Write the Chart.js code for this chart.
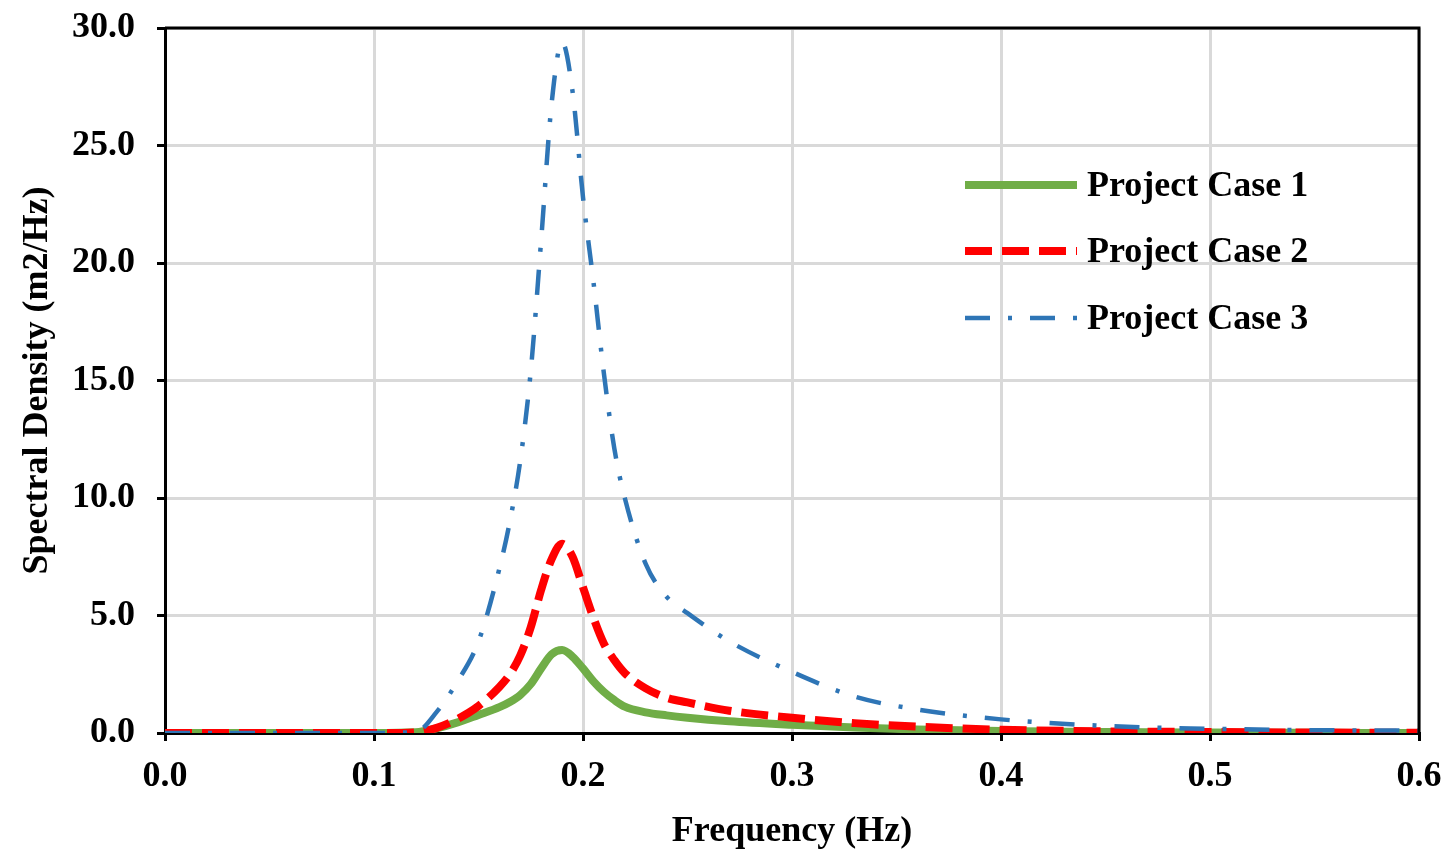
<!DOCTYPE html>
<html>
<head>
<meta charset="utf-8">
<title>Spectral Density</title>
<script src="https://cdn.jsdelivr.net/npm/chart.js@4.4.0/dist/chart.umd.min.js"></script>
<style>
    html, body { margin: 0; padding: 0; background: #fff; }
    #wrap { width: 1449px; height: 853px; position: relative; }
</style>
</head>
<body>
<div id="wrap"><canvas id="spectrumChart"></canvas></div>
<script>
// frequency points (Hz)
const freq = [0, 0.05, 0.10, 0.12, 0.13, 0.14, 0.15, 0.16, 0.165, 0.17, 0.175, 0.18, 0.185, 0.19, 0.195, 0.2, 0.205, 0.21, 0.215, 0.22, 0.23, 0.24, 0.25, 0.27, 0.3, 0.33, 0.36, 0.4, 0.45, 0.5, 0.55, 0.6];

// spectral density (m2/Hz) per case
const case1 = [0, 0, 0, 0.03, 0.2, 0.45, 0.77, 1.1, 1.32, 1.62, 2.08, 2.75, 3.35, 3.53, 3.25, 2.75, 2.2, 1.75, 1.4, 1.12, 0.88, 0.75, 0.65, 0.5, 0.35, 0.23, 0.15, 0.08, 0.04, 0.02, 0.01, 0];
const case2 = [0, 0, 0, 0.03, 0.22, 0.6, 1.15, 1.96, 2.5, 3.3, 4.5, 6.1, 7.4, 8.05, 7.5, 6.2, 4.9, 3.8, 3.1, 2.55, 1.9, 1.5, 1.3, 0.95, 0.65, 0.42, 0.27, 0.14, 0.07, 0.04, 0.02, 0.01];
const case3 = [0, 0, 0, 0.05, 0.9, 2.2, 3.9, 7.0, 9.0, 11.6, 15.4, 21.0, 26.8, 29.4, 27.3, 22.8, 19.2, 15.3, 12.1, 10.0, 7.2, 5.8, 5.1, 3.9, 2.6, 1.55, 1.0, 0.58, 0.3, 0.18, 0.12, 0.1];

const seriesNames = ['Project Case 1', 'Project Case 2', 'Project Case 3'];
const xTicks = [0, 0.1, 0.2, 0.3, 0.4, 0.5, 0.6];
const yTicks = [0, 5, 10, 15, 20, 25, 30];

const FONT = "'Liberation Serif', 'Times New Roman', serif";

function toPoints(values) {
    let pts = [];
    for (let i = 0; i < freq.length; i++) {
        pts.push({ x: freq[i], y: values[i] });
    }
    return pts;
}

/* legend drawn inside the plot, excel style */
const insideLegend = {
    id: 'insideLegend',
    afterDatasetsDraw(chart, args, opts) {
        const ctx = chart.ctx;
        const area = chart.chartArea;
        ctx.save();
        ctx.font = 'bold 36px ' + FONT;
        ctx.textBaseline = 'middle';
        ctx.fillStyle = '#000';
        chart.data.datasets.forEach((ds, i) => {
            let y = area.top + opts.rows[i];
            let x0 = area.left + opts.lineStart;
            ctx.strokeStyle = ds.borderColor;
            ctx.lineWidth = ds.borderWidth;
            ctx.setLineDash(ds.borderDash || []);
            ctx.beginPath();
            ctx.moveTo(x0, y);
            ctx.lineTo(x0 + opts.lineLen, y);
            ctx.stroke();
            ctx.setLineDash([]);
            ctx.fillText(ds.label, x0 + opts.lineLen + 10, y + 2);
        });
        ctx.restore();
    }
};

/* black frame on top and right of plot area */
const plotFrame = {
    id: 'plotFrame',
    afterDraw(chart) {
        const ctx = chart.ctx;
        const a = chart.chartArea;
        ctx.save();
        ctx.strokeStyle = '#000';
        ctx.lineWidth = 3;
        ctx.beginPath();
        ctx.moveTo(a.left, a.top);
        ctx.lineTo(a.right, a.top);
        ctx.lineTo(a.right, a.bottom);
        ctx.stroke();
        ctx.restore();
    }
};

var ctx = document.getElementById('spectrumChart').getContext('2d');
var chart = new Chart(ctx, {
    type: 'line',
    data: {
        datasets: [{
            label: seriesNames[0],
            data: toPoints(case1),
            borderColor: '#70AD47',
            borderWidth: 8,
            order: 2
        }, {
            label: seriesNames[1],
            data: toPoints(case2),
            borderColor: '#FF0000',
            borderWidth: 8,
            borderDash: [27, 10],
            order: 1
        }, {
            label: seriesNames[2],
            data: toPoints(case3),
            borderColor: '#2E75B6',
            borderWidth: 4.5,
            borderDash: [25, 18, 4, 18],
            order: 0
        }]
    },
    options: {
        responsive: true,
        maintainAspectRatio: false,
        animation: false,
        layout: { padding: { top: 28, right: 30, left: 16, bottom: 0 } },
        elements: {
            point: { radius: 0 },
            line: { cubicInterpolationMode: 'monotone', fill: false, borderCapStyle: 'butt' }
        },
        plugins: {
            legend: { display: false },
            tooltip: { enabled: false },
            insideLegend: { rows: [157, 223, 290], lineStart: 800, lineLen: 112 }
        },
        scales: {
            x: {
                type: 'linear',
                min: 0,
                max: 0.6,
                afterBuildTicks: (scale) => { scale.ticks = xTicks.map(v => ({ value: v })); },
                afterFit: (scale) => { scale.height = 120; },
                ticks: {
                    color: '#000',
                    // tall line height pushes labels down while keeping padding small
                    font: { family: FONT, size: 36, weight: 'bold', lineHeight: 1.67 },
                    padding: 6,
                    maxRotation: 0,
                    callback: (v) => Number(v).toFixed(1)
                },
                grid: { color: '#d9d9d9', lineWidth: 3, tickColor: '#000', tickLength: 8 },
                border: { color: '#000', width: 3 },
                title: {
                    display: true,
                    text: 'Frequency (Hz)',
                    color: '#000',
                    font: { family: FONT, size: 36, weight: 'bold' },
                    padding: { top: 0, bottom: 0 }
                }
            },
            y: {
                min: 0,
                max: 30,
                afterBuildTicks: (scale) => { scale.ticks = yTicks.map(v => ({ value: v })); },
                afterFit: (scale) => { scale.width = 149; },
                ticks: {
                    color: '#000',
                    font: { family: FONT, size: 36, weight: 'bold', lineHeight: 0.34 },
                    padding: 22,
                    callback: (v) => Number(v).toFixed(1)
                },
                grid: { color: '#d9d9d9', lineWidth: 3, tickColor: '#000', tickLength: 8 },
                border: { color: '#000', width: 3 },
                title: {
                    display: true,
                    text: 'Spectral Density (m2/Hz)',
                    color: '#000',
                    font: { family: FONT, size: 36, weight: 'bold' },
                    padding: { top: 0, bottom: 0 }
                }
            }
        }
    },
    plugins: [insideLegend, plotFrame]
});
</script>
</body>
</html>
